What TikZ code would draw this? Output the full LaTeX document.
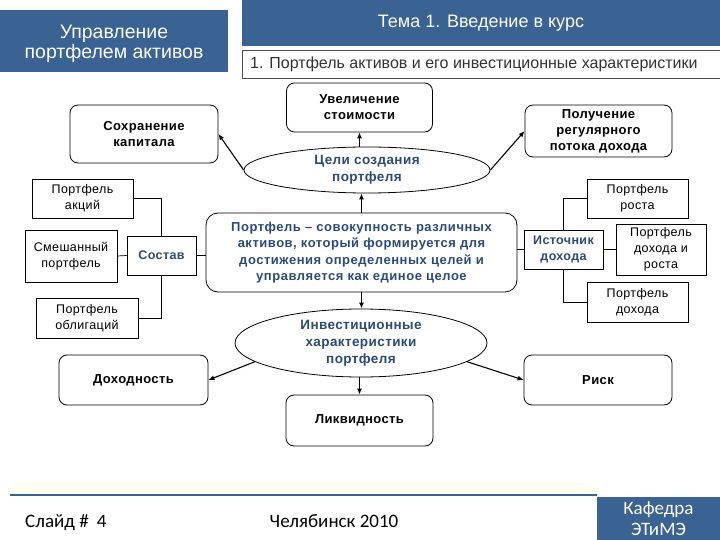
\documentclass[tikz,border=0pt]{standalone}
\usepackage{fontspec}
\setmainfont{Liberation Sans}
\newfontfamily\calib{Carlito}
\newfontfamily\spacedA[LetterSpace=3]{Liberation Sans}
\newfontfamily\spacedB[LetterSpace=4]{Liberation Sans}
\usetikzlibrary{shapes.geometric,arrows.meta}
\definecolor{hdr}{HTML}{3A6394}
\definecolor{txtb}{HTML}{2B4A78}
\definecolor{subt}{HTML}{333333}
\tikzset{
 goal/.style={draw, rounded corners=8pt, line width=0.8pt, align=center, font=\spacedA\fontsize{13}{16}\selectfont\bfseries, inner sep=1pt},
 sq/.style={draw, line width=0.7pt, align=center, font=\spacedA\fontsize{12.5}{16}\selectfont, inner sep=1pt},
 ell/.style={draw, ellipse, line width=0.8pt, align=center, font=\spacedA\fontsize{13.5}{17}\selectfont\bfseries, text=txtb, inner sep=0pt},
 arr/.style={-{Latex[length=6pt,width=5pt]}, line width=1.1pt},
 ln/.style={line width=0.7pt},
 hbox/.style={fill=hdr, draw=none, text=white, align=center, inner sep=0pt},
 foot/.style={font=\calib\fontsize{19}{20}\selectfont, inner sep=0pt}
}
\begin{document}
\begin{tikzpicture}[x=1pt,y=-1pt]
\useasboundingbox (0,0) rectangle (720,540);
% header
\node[hbox, minimum width=228pt, minimum height=62pt] (hl) at (114,41) {};
\node[text=white, align=center, inner sep=0pt, font=\fontsize{19.5}{20}\selectfont] (hlt) at (114,43.5) {Управление\\портфелем активов};
\node[hbox, minimum width=478pt, minimum height=46pt, font=\fontsize{18}{18}\selectfont] (ht) at (481,23) {Тема 1. Введение в курс};
\node[draw=black!70, line width=0.6pt, minimum width=478pt, minimum height=28pt, inner sep=0pt] (hs) at (481,64) {};
\node[anchor=west, text=subt, font=\fontsize{16}{16}\selectfont, inner sep=0pt] (hst) at (250,64) {1. Портфель активов и его инвестиционные характеристики};

% goals
\node[goal, minimum width=146pt, minimum height=49pt] (up) at (359.5,107.5) {Увеличение\\стоимости};
\node[goal, minimum width=148pt, minimum height=58pt] (keep) at (144,134) {Сохранение\\капитала};
\node[goal, minimum width=147pt, minimum height=52pt] (inc) at (598.5,131) {Получение\\регулярного\\потока дохода};
\node[ell, minimum width=246pt, minimum height=46pt] (e1) at (367,170) {Цели создания\\портфеля};

% main
\node[draw, rounded corners=12pt, line width=0.8pt, align=center, text=txtb, font=\spacedB\fontsize{13}{16.5}\selectfont\bfseries, minimum width=311pt, minimum height=79pt, inner sep=0pt] (main) at (361.5,252.5) {Портфель – совокупность различных\\активов, который формируется для\\достижения определенных целей и\\управляется как единое целое};

% left tree
\node[sq, minimum width=101pt, minimum height=39pt] (akc) at (82.5,198.5) {Портфель\\акций};
\node[sq, minimum width=92pt, minimum height=52pt] (mix) at (71,256) {Смешанный\\портфель};
\node[sq, minimum width=69pt, minimum height=39pt, text=txtb, font=\spacedA\fontsize{12.5}{16}\selectfont\bfseries] (sost) at (161.5,255.5) {Состав};
\node[sq, minimum width=102pt, minimum height=40pt] (obl) at (87,318) {Портфель\\облигаций};

% right tree
\node[sq, minimum width=101pt, minimum height=39pt] (rost) at (637.5,198.5) {Портфель\\роста};
\node[sq, minimum width=79pt, minimum height=39pt, text=txtb, font=\spacedA\fontsize{12.5}{16}\selectfont\bfseries] (ist) at (563.5,249.5) {Источник\\дохода};
\node[sq, minimum width=90pt, minimum height=51pt] (dr) at (661,249.5) {Портфель\\дохода и\\роста};
\node[sq, minimum width=101pt, minimum height=40pt] (doh) at (637.5,302) {Портфель\\дохода};

% characteristics
\node[ell, minimum width=252pt, minimum height=68pt] (e2) at (361,343) {Инвестиционные\\характеристики\\портфеля};
\node[goal, minimum width=149pt, minimum height=50pt] (dohod) at (133.5,380) {Доходность};
\node[goal, minimum width=148pt, minimum height=50pt] (risk) at (598,380) {Риск};
\node[goal, minimum width=147pt, minimum height=51pt] (liq) at (359.5,420.5) {Ликвидность};

% arrows
\draw[arr] (e1.north -| up.south) -- (up.south);
\draw[arr] (e1.west) -- (keep.east);
\draw[arr] (e1.east) -- (inc.west);
\draw[arr] (main.north) -- (main.north |- e1.south);
\draw[arr] (main.south) -- (main.south |- e2.north);
\draw[arr] (e2.south -| liq.north) -- (liq.north);
\draw[arr] (e2.190) -- (dohod.east);
\draw[arr] (e2.-10) -- (risk.west);

% tree lines
\draw[ln] (sost.north) |- (akc.east);
\draw[ln] (sost.south) |- (obl.east);
\draw[ln] (sost.west) -- (mix.east);
\draw[ln] (sost.east) -- (sost.east -| main.west);
\draw[ln] (ist.west) -- (ist.west -| main.east);
\draw[ln] (ist.north) |- (rost.west);
\draw[ln] (ist.south) |- (doh.west);
\draw[ln] (ist.east) -- (ist.east -| dr.west);

% footer
\fill[top color=white, bottom color=yellow!8] (10,478) rectangle (597,494);
\draw[hdr, line width=2.2pt] (10,495) -- (597,495);
\node[hbox, minimum width=123pt, minimum height=43pt, font=\calib\fontsize{19}{21}\selectfont] (kaf) at (658.5,518.5) {Кафедра\\ЭТиМЭ};
\node[foot, anchor=base west] (sl) at (25,527) {Слайд \#\hspace{8pt}4};
\node[foot, anchor=base] (cel) at (334,527) {Челябинск 2010};
\end{tikzpicture}
\end{document}
